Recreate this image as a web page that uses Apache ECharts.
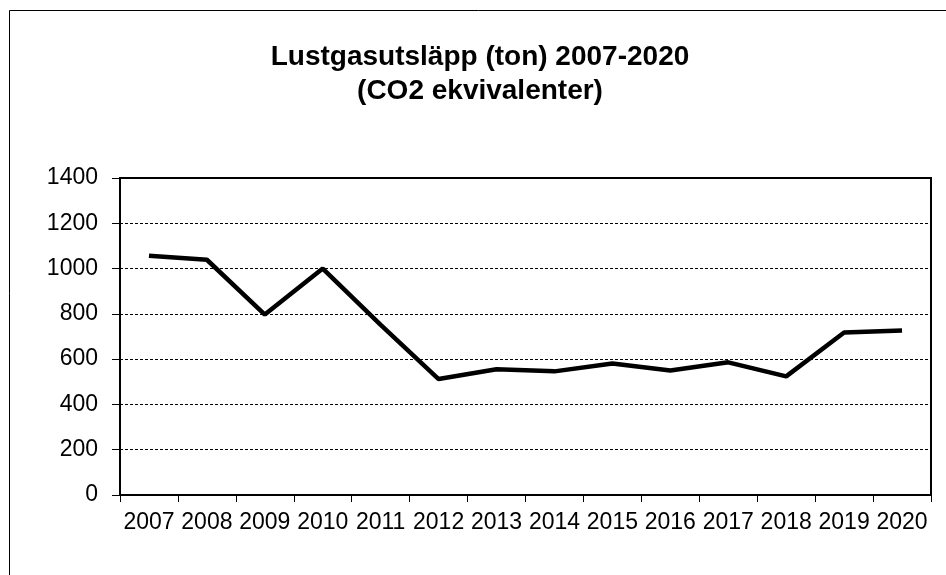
<!DOCTYPE html>
<html>
<head>
<meta charset="utf-8">
<script src="https://cdn.jsdelivr.net/npm/echarts@6/dist/echarts.min.js"></script>
<style>
  html, body { margin: 0; padding: 0; background: #fff; }
  #chart { width: 946px; height: 575px; }
</style>
</head>
<body>
<div id="chart"></div>
<script>
const years = ['2007', '2008', '2009', '2010', '2011', '2012', '2013', '2014', '2015', '2016', '2017', '2018', '2019', '2020'];
const emissions = [1057, 1039, 797, 1000, 751, 512, 555, 546, 581, 550, 586, 524, 718, 727];
const yTicks = { min: 0, max: 1400, step: 200 };
const titleLines = ['Lustgasutsläpp (ton) 2007-2020', '(CO2 ekvivalenter)'];

const chart = echarts.init(document.getElementById('chart'));
chart.setOption({
  animation: false,
  textStyle: { fontFamily: 'Liberation Sans, Arial, sans-serif' },
  title: {
    text: titleLines.join('\n'),
    left: 475,
    textAlign: 'center',
    top: 35,
    textStyle: { fontSize: 28, fontWeight: 'bold', color: '#000', lineHeight: 34 }
  },
  graphic: [{
    type: 'rect',
    shape: { x: 9.5, y: 10.5, width: 1000, height: 1000 },
    style: { fill: 'none', stroke: '#000', lineWidth: 1 },
    silent: true
  }],
  grid: {
    left: 120, right: 15, top: 178, bottom: 80,
    show: true, borderColor: '#000', borderWidth: 2, backgroundColor: 'transparent'
  },
  xAxis: {
    type: 'category',
    data: years,
    boundaryGap: true,
    axisLine: { lineStyle: { color: '#000', width: 2 } },
    axisTick: { show: true, length: 7, lineStyle: { color: '#000', width: 1 } },
    axisLabel: { color: '#000', fontSize: 23, margin: 16, interval: 0 }
  },
  yAxis: {
    type: 'value',
    min: yTicks.min, max: yTicks.max, interval: yTicks.step,
    axisLine: { show: true, lineStyle: { color: '#000', width: 2 } },
    axisTick: { show: true, length: 8, lineStyle: { color: '#000', width: 1 } },
    axisLabel: { color: '#000', fontSize: 23, margin: 22, formatter: v => String(v) },
    splitLine: { lineStyle: { color: '#000', type: [3, 2], width: 1 } }
  },
  series: [{
    type: 'line',
    data: emissions,
    symbol: 'none',
    lineStyle: { color: '#000', width: 4.5 }
  }]
});
</script>
</body>
</html>
